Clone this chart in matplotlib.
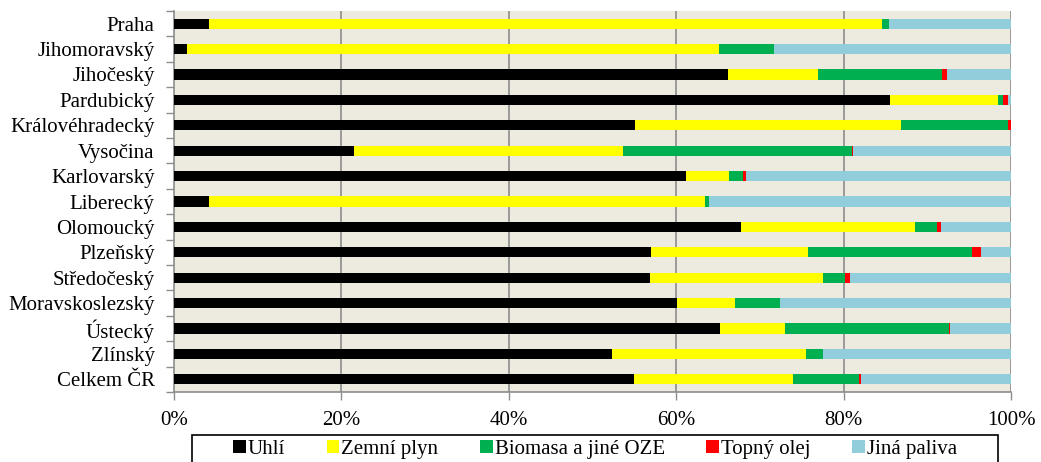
import numpy as np
import matplotlib
matplotlib.use("Agg")
import matplotlib.pyplot as plt
from matplotlib.patches import Rectangle

plt.rcParams['font.family'] = ['Liberation Serif', 'DejaVu Serif']

# kraje (shora dolů)
kraje = ['Praha', 'Jihomoravský', 'Jihočeský', 'Pardubický', 'Královéhradecký',
         'Vysočina', 'Karlovarský', 'Liberecký', 'Olomoucký', 'Plzeňský',
         'Středočeský', 'Moravskoslezský', 'Ústecký', 'Zlínský', 'Celkem ČR']

# podíly paliv v %
uhli =   [4.2, 1.5, 66.2, 85.6, 55.1, 21.5, 61.2, 4.2, 67.8, 57.0, 56.9, 60.1, 65.2, 52.3, 55.0]
plyn =   [80.4, 63.6, 10.7, 12.8, 31.7, 32.2, 5.1, 59.3, 20.7, 18.7, 20.6, 6.9, 7.8, 23.2, 18.9]
biomasa = [0.8, 6.6, 14.8, 0.7, 12.9, 27.3, 1.7, 0.4, 2.6, 19.6, 2.7, 5.4, 19.6, 2.0, 7.9]
olej =   [0.0, 0.0, 0.6, 0.6, 0.3, 0.1, 0.3, 0.0, 0.5, 1.1, 0.6, 0.0, 0.1, 0.0, 0.3]
jina =   [14.6, 28.3, 7.7, 0.3, 0.0, 18.9, 31.7, 36.1, 8.4, 3.6, 19.2, 27.6, 7.3, 22.5, 17.9]

serie = [('Uhlí', uhli, '#000000'),
         ('Zemní plyn', plyn, '#FFFF00'),
         ('Biomasa a jiné OZE', biomasa, '#00B050'),
         ('Topný olej', olej, '#FF0000'),
         ('Jiná paliva', jina, '#92CDDC')]

fig = plt.figure(figsize=(10.41, 4.62), dpi=100)
ax = fig.add_axes([174/1041, 1-392/462, 837/1041, 381/462])
ax.set_facecolor('#EDEAE0')

y = np.arange(len(kraje))
left = np.zeros(len(kraje))
for nazev, hodnoty, barva in serie:
    h = np.array(hodnoty)
    ax.barh(y, h, left=left, height=0.4, color=barva, label=nazev, zorder=3)
    left += h

ax.set_xlim(0, 100)
ax.set_ylim(len(kraje)-0.5, -0.5)

for v in [20, 40, 60, 80, 100]:
    ax.axvline(v, color='#8C8C8C', lw=1.2, zorder=2)

ax.set_yticks(y)
ax.set_yticklabels(kraje, fontsize=15)
ax.set_yticks(np.arange(len(kraje)+1) - 0.5, minor=True)
ax.tick_params(axis='y', which='major', length=0, pad=14)
ax.tick_params(axis='y', which='minor', length=6, color='#8C8C8C', width=1)

ax.set_xticks([0, 20, 40, 60, 80, 100])
ax.set_xticklabels(['0%', '20%', '40%', '60%', '80%', '100%'], fontsize=15)
ax.tick_params(axis='x', length=6, color='#8C8C8C', width=1, pad=8)

for s in ['top', 'right']:
    ax.spines[s].set_visible(False)
for s in ['left', 'bottom']:
    ax.spines[s].set_color('#8C8C8C')
    ax.spines[s].set_linewidth(1.2)

# rámeček legendy
fig.patches.append(Rectangle((192/1041, -0.05), 806/1041, 0.05 + 1-435/462,
                             transform=fig.transFigure, fill=False,
                             edgecolor='black', lw=1.2))
fig.legend(loc='upper center', bbox_to_anchor=((192+998)/2/1041, 1-440/462),
           ncol=5, frameon=False, fontsize=15, handlelength=0.6, handleheight=0.6,
           handletextpad=0.1, columnspacing=2.0, borderpad=0, borderaxespad=0)

fig.savefig('out.png', dpi=100)
